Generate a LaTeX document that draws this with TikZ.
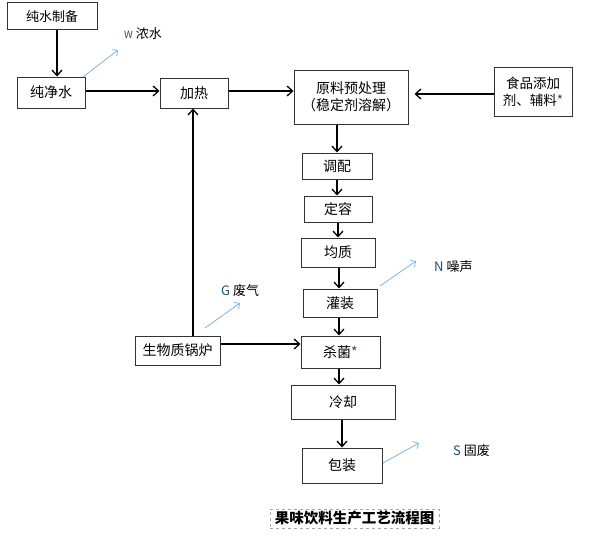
\documentclass[tikz,border=0pt]{standalone}
\usepackage{fontspec}
\setmainfont{Noto Sans CJK SC}
\usetikzlibrary{arrows.meta}
\definecolor{bluearr}{HTML}{7FB2E5}
\definecolor{lettc}{HTML}{1F4E79}
\begin{document}
\begin{tikzpicture}[x=1pt,y=-1pt,
  box/.style={draw=black!80,line width=1pt,inner sep=0pt,align=center,font=\fontsize{14}{16.5}\selectfont},
  arr/.style={line width=1.5pt,-{Straight Barb[length=5.5pt,width=10pt,line width=1.3pt]}},
  barr/.style={draw=bluearr,line width=0.8pt,-{Straight Barb[length=4pt,width=8pt]}},
  lab/.style={anchor=west,inner sep=0pt,font=\fontsize{13}{15}\selectfont}]
\useasboundingbox (0,0) rectangle (593,551);
\node[box,minimum width=90,minimum height=27,font=\fontsize{13}{15}\selectfont] (pure) at (52,16.5) {纯水制备};
\node[box,minimum width=68,minimum height=31] (jing) at (51,92.5) {纯净水};
\node[box,minimum width=68,minimum height=30] (heat) at (194,93) {加热};
\node[box,minimum width=114,minimum height=54] (yuan) at (351,97) {原料预处理\\（稳定剂溶解）};
\node[box,minimum width=78,minimum height=49,font=\fontsize{13.5}{17}\selectfont] (add) at (533,91.5) {食品添加\\剂、辅料{\color{lettc}*}};
\node[box,minimum width=70,minimum height=26] (tiao) at (337,166) {调配};
\node[box,minimum width=68,minimum height=26] (ding) at (338,209) {定容};
\node[box,minimum width=74,minimum height=29] (jun) at (338,252.5) {均质};
\node[box,minimum width=74,minimum height=28] (guan) at (340,303) {灌装};
\node[box,minimum width=79,minimum height=32] (sha) at (340.5,352) {杀菌{\color{lettc}*}};
\node[box,minimum width=85,minimum height=29] (boiler) at (177.5,350.5) {生物质锅炉};
\node[box,minimum width=104,minimum height=34] (leng) at (343,402) {冷却};
\node[box,minimum width=80,minimum height=35] (bao) at (342,465.5) {包装};
\node[draw=black!35,dashed,line width=0.6pt,minimum width=169,minimum height=19,inner sep=0pt,font=\bfseries\fontsize{14.5}{16}\selectfont] (title) at (354.5,518.5) {果味饮料生产工艺流程图};

% black arrows
\draw[arr] (pure.south -| 57,0) -- (jing.north -| 57,0);
\draw[arr] (jing.east |- 0,91) -- (heat.west |- 0,91);
\draw[arr] (heat.east |- 0,91) -- (yuan.west |- 0,91);
\draw[arr] (add.west |- 0,94) -- ([xshift=6pt]yuan.east |- 0,94);
\draw[arr] (yuan.south -| 337,0) -- (tiao.north -| 337,0);
\draw[arr] (tiao.south -| 337,0) -- (ding.north -| 337,0);
\draw[arr] (ding.south -| 338,0) -- (jun.north -| 338,0);
\draw[arr] (jun.south -| 339,0) -- (guan.north -| 339,0);
\draw[arr] (guan.south -| 339,0) -- (sha.north -| 339,0);
\draw[arr] (sha.south -| 339,0) -- (leng.north -| 339,0);
\draw[arr] (leng.south -| 342,0) -- (bao.north -| 342,0);
\draw[arr] (boiler.north -| 193,0) -- (heat.south -| 193,0);
\draw[arr] (boiler.east |- 0,344) -- (sha.west |- 0,344);

% blue arrows and labels
\coordinate (w) at (118,50);
\coordinate (g) at (240,303);
\coordinate (n) at (416,261);
\coordinate (s) at (419,443);
\draw[barr] (83,77) -- (w);
\draw[barr] (205,328) -- (g);
\draw[barr] (380,286) -- (n);
\draw[barr] (383,463) -- (s);
\node[lab] (wl) at (124,34) {{\color{lettc}\fontsize{10}{12}\selectfont W} 浓水};
\node[lab] (gl) at (221,291) {{\color{lettc}G} 废气};
\node[lab] (nl) at (434,267) {{\color{lettc}N} 噪声};
\node[lab] (sl) at (453,451) {{\color{lettc}S} 固废};
\end{tikzpicture}
\end{document}
